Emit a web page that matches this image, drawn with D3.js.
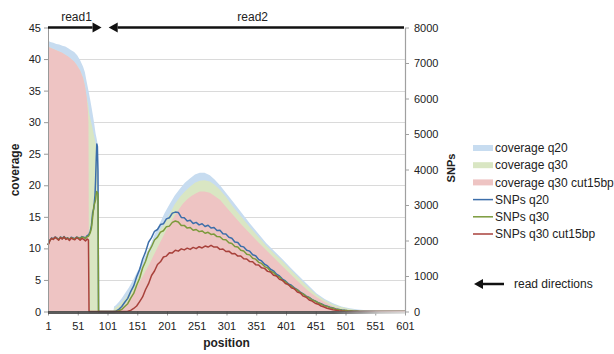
<!DOCTYPE html>
<html>
<head>
<meta charset="utf-8">
<script src="https://cdn.jsdelivr.net/npm/d3@7"></script>
<style>
  body { margin: 0; background: #fff; }
  svg text { font-family: "Liberation Sans", Arial, sans-serif; fill: #222; }
</style>
</head>
<body>
<div id="chart"></div>
<script>
// coverage areas (left axis), position -> coverage
const covQ20Pos = [1, 5, 10, 15, 20, 25, 30, 35, 40, 45, 50, 55, 60, 63, 66, 69, 72, 75, 78, 81, 83, 85, 86,
  111, 112, 115, 120, 125, 130, 137, 144, 151, 158, 165, 172, 180, 189, 197, 206, 214, 223, 231, 240, 248, 256,
  264, 273, 281, 290, 300, 312, 326, 340, 354, 368, 382, 396, 410, 424, 438, 452, 466, 480, 494, 508, 522, 536,
  550, 565, 601];
const covQ20 = [42.9, 42.7, 42.6, 42.4, 42.3, 42.1, 42.0, 41.7, 41.4, 41.1, 40.6, 39.8, 38.8, 37.9, 36.4, 35.0,
  33.5, 31.9, 30.2, 28.2, 27.3, 26.2, 0,
  0, 0.8, 1.0, 1.5, 2.1, 2.8, 3.8, 5.0, 6.3, 7.6, 8.9, 10.3, 12.2, 14.0, 15.6, 17.1, 18.4, 19.5, 20.4, 21.1, 21.7,
  22.0, 22.0, 21.6, 20.9, 20.0, 18.8, 17.4, 15.7, 14.0, 12.4, 10.8, 9.5, 8.2, 6.8, 5.5, 4.2, 2.9, 2.0, 1.3, 0.8,
  0.5, 0.3, 0.2, 0.1, 0, 0];

const covQ30Pos = [1, 10, 20, 30, 40, 49, 55, 60, 63, 66, 69, 70, 72, 75, 78, 81, 83, 85, 86,
  111, 113, 120, 130, 137, 144, 151, 158, 165, 172, 180, 189, 197, 200, 208, 214, 223, 231, 240, 248, 256, 264,
  273, 281, 290, 300, 312, 326, 340, 354, 368, 382, 396, 410, 424, 438, 452, 466, 480, 494, 508, 522, 536, 550, 601];
const covQ30 = [42.0, 41.6, 41.2, 40.7, 40.0, 39.1, 38.2, 37.0, 35.8, 34.0, 32.5, 31.5, 30.6, 29.4, 28.0, 26.6, 25.7, 24.8, 0,
  0, 0.5, 1.0, 2.0, 2.9, 3.9, 5.1, 6.5, 7.8, 9.2, 11.0, 12.9, 14.0, 14.5, 15.9, 17.0, 18.2, 19.0, 19.8, 20.4, 20.7,
  20.8, 20.6, 20.1, 19.3, 18.2, 16.6, 15.0, 13.4, 11.9, 10.4, 9.1, 7.9, 6.5, 5.2, 3.9, 2.7, 1.8, 1.1, 0.7, 0.4, 0.2,
  0.1, 0, 0];

const covCutPos = [1, 5, 10, 15, 20, 25, 30, 35, 40, 45, 49, 55, 60, 63, 66, 68, 69, 70,
  115, 125, 135, 144, 151, 158, 165, 172, 179, 186, 193, 200, 207, 214, 221, 228, 235, 242, 249, 256, 264, 273,
  281, 290, 300, 312, 326, 340, 354, 368, 382, 396, 410, 424, 438, 452, 466, 480, 494, 508, 522, 540, 601];
const covCut = [42.0, 41.8, 41.6, 41.4, 41.2, 41.0, 40.7, 40.4, 40.0, 39.6, 39.1, 38.2, 37.0, 35.8, 34.0, 31.8, 30.0, 0,
  0, 0.5, 1.5, 3.0, 4.0, 5.2, 6.4, 7.6, 9.0, 10.3, 11.6, 12.9, 14.1, 15.2, 16.2, 17.1, 17.8, 18.3, 18.7, 19.0, 19.0,
  18.8, 18.3, 17.7, 16.6, 15.3, 13.8, 12.4, 11.0, 9.7, 8.4, 7.1, 5.8, 4.5, 3.3, 2.3, 1.5, 0.8, 0.4, 0.2, 0.05, 0, 0];

// SNP lines (right axis)
const snpPos = [1, 4, 7, 10, 13, 16, 19, 22, 25, 28, 31, 34, 37, 40, 43, 46, 49, 52, 55, 58, 61, 64, 67, 69,
  70, 72, 74, 76, 78, 80, 81, 82, 83, 84, 85, 86,
  100, 110,
  115, 120, 125, 130, 135, 140, 145, 150, 155, 160,
  165, 170, 175, 180, 185, 190, 195, 200, 205, 210,
  215, 220, 225, 230, 235, 240, 245, 250, 255, 260,
  265, 270, 275, 280, 285, 290, 295, 300, 305, 310,
  315, 320, 325, 330, 335, 340, 345, 350, 355, 360,
  365, 370, 375, 380, 385, 390, 395, 400, 405, 410,
  415, 420, 425, 430, 435, 440, 445, 450, 455, 460,
  465, 470, 475, 480, 485, 490, 495, 500, 505, 510,
  515, 520, 525,
  545, 565, 585, 601];

const snpQ20 = [1880, 2010, 2070, 2050, 2100, 2070, 2030, 2100, 2060, 2110, 2050, 2080, 2030, 2090, 2070, 2050,
  2100, 2080, 2060, 2110, 2090, 2070, 2140, 2160,
  2190, 2260, 2420, 2780, 2900, 3280, 3700, 4250, 4720, 4650, 3950, 0,
  0, 0,
  10, 60, 140, 260, 370, 560, 720, 980, 1185, 1470,
  1680, 1950, 2080, 2260, 2310, 2450, 2470, 2610, 2640, 2770,
  2800, 2790, 2650, 2640, 2550, 2570, 2480, 2510, 2440, 2470,
  2395, 2430, 2350, 2365, 2280, 2290, 2190, 2180, 2090, 2065,
  1960, 1945, 1840, 1820, 1725, 1700, 1600, 1570, 1465, 1425,
  1330, 1285, 1190, 1145, 1050, 1000, 915, 860, 780, 740,
  665, 615, 545, 495, 435, 395, 335, 300, 250, 218,
  178, 152, 118, 96, 73, 59, 43, 32, 23, 16,
  10, 6, 3,
  0, 0, 0, 0];

const snpQ30 = [1870, 2000, 2060, 2040, 2090, 2060, 2020, 2090, 2050, 2100, 2040, 2070, 2020, 2080, 2060, 2040,
  2090, 2070, 2050, 2100, 2080, 2060, 2110, 2120,
  2150, 2220, 2350, 2650, 2960, 3080, 3150, 3300, 3380, 3350, 3300, 0,
  0, 0,
  0, 20, 60, 140, 220, 375, 510, 740, 935, 1225,
  1415, 1675, 1825, 2015, 2095, 2235, 2275, 2390, 2405, 2510,
  2550, 2520, 2420, 2425, 2350, 2365, 2290, 2310, 2250, 2270,
  2205, 2230, 2170, 2180, 2110, 2105, 2030, 2020, 1935, 1915,
  1830, 1815, 1725, 1705, 1615, 1595, 1500, 1475, 1385, 1355,
  1265, 1230, 1135, 1100, 1005, 970, 875, 840, 750, 715,
  640, 605, 530, 490, 420, 388, 322, 292, 240, 210,
  165, 143, 108, 90, 66, 53, 38, 29, 20, 14,
  9, 5, 2,
  0, 0, 0, 0];

const snpCut = [1870, 1990, 2060, 2030, 2090, 2050, 2010, 2080, 2040, 2100, 2030, 2060, 2000, 2070, 2040, 2020,
  2080, 2050, 2010, 2060, 2030, 1990, 2040, 2010,
  0, 0, 0, 0, 0, 0, 0, 0, 0, 0, 0, 0,
  0, 0,
  0, 0, 0, 0, 5, 30, 85, 155, 280, 410,
  620, 785, 1015, 1140, 1325, 1400, 1535, 1560, 1655, 1650,
  1725, 1700, 1765, 1735, 1785, 1750, 1805, 1770, 1825, 1790,
  1845, 1815, 1865, 1815, 1820, 1750, 1760, 1690, 1700, 1630,
  1635, 1560, 1565, 1485, 1480, 1405, 1400, 1320, 1310, 1230,
  1215, 1130, 1110, 1020, 1000, 905, 880, 790, 760, 670,
  640, 550, 520, 432, 400, 325, 292, 232, 205, 155,
  128, 92, 72, 48, 36, 21, 12, 6, 2, 0,
  0, 0, 0,
  0, 0, 0, 0];

const xTicks = [1, 51, 101, 151, 201, 251, 301, 351, 401, 451, 501, 551, 601];
const covTicks = [0, 5, 10, 15, 20, 25, 30, 35, 40, 45];
const snpTicks = [0, 1000, 2000, 3000, 4000, 5000, 6000, 7000, 8000];
const areaLabels = ['coverage q20', 'coverage q30', 'coverage q30 cut15bp'];
const lineLabels = ['SNPs q20', 'SNPs q30', 'SNPs q30 cut15bp'];

const areaColors = ['#c7dcf0', '#d9e6c3', '#eec4c3'];
const lineColors = ['#3c6eaa', '#7b9a3b', '#a8413b'];

const width = 614, height = 354;
const plot = {left: 48, right: 405, top: 27.5, bottom: 311.5};

const svg = d3.select('#chart')
  .append('svg')
    .attr('width', width)
    .attr('height', height);

const defs = svg.append('defs');
defs.append('filter').attr('id', 'soft')
  .append('feGaussianBlur').attr('stdDeviation', 0.6);
const grad = defs.append('linearGradient').attr('id', 'axisfade')
  .attr('x1', '0%').attr('x2', '100%');
grad.append('stop').attr('offset', '0%').attr('stop-color', '#3e3e3e');
grad.append('stop').attr('offset', '80%').attr('stop-color', '#454545');
grad.append('stop').attr('offset', '93%').attr('stop-color', '#c8c8c8');
grad.append('stop').attr('offset', '100%').attr('stop-color', '#e0e0e0');

const xScale = d3.scaleLinear().domain([1, 601]).range([plot.left, plot.right]);
const yCov = d3.scaleLinear().domain([0, 45]).range([plot.bottom, plot.top]);
const ySnp = d3.scaleLinear().domain([0, 8000]).range([plot.bottom, plot.top]);

// gridlines
svg.append('g')
  .selectAll('line')
  .data(covTicks.filter((d) => d > 0 && d < 45))
  .join('line')
    .attr('x1', plot.left).attr('x2', plot.right)
    .attr('y1', (d) => Math.round(yCov(d)) + 0.5)
    .attr('y2', (d) => Math.round(yCov(d)) + 0.5)
    .attr('stroke', '#dadada');

// coverage areas
const areaSets = [
  [covQ20Pos, covQ20],
  [covQ30Pos, covQ30],
  [covCutPos, covCut]
];
const area = d3.area()
  .x((d) => xScale(d[0]))
  .y0(yCov(0))
  .y1((d) => yCov(d[1]));

areaSets.forEach(([p, v], i) => {
  svg.append('path')
    .datum(p.map((x, k) => [x, v[k]]))
    .attr('fill', areaColors[i])
    .attr('filter', 'url(#soft)')
    .attr('d', area);
});

// SNP lines
const snpSets = [snpQ20, snpQ30, snpCut];
const line = d3.line()
  .x((d) => xScale(d[0]))
  .y((d) => ySnp(d[1]));

snpSets.forEach((v, i) => {
  svg.append('path')
    .datum(snpPos.map((x, k) => [x, v[k]]))
    .attr('fill', 'none')
    .attr('stroke', lineColors[i])
    .attr('stroke-width', 1.5)
    .attr('stroke-linejoin', 'round')
    .attr('d', line);
});

// left axis
const leftAxis = svg.append('g')
  .attr('transform', `translate(${plot.left},0)`)
  .call(d3.axisLeft(yCov).tickValues(covTicks).tickSize(4).tickSizeOuter(0).tickPadding(3));
leftAxis.select('.domain').attr('stroke', '#999999');
leftAxis.selectAll('.tick line').attr('stroke', '#999999');
leftAxis.selectAll('text').attr('font-size', 11).attr('fill', '#222');

// right axis
const rightAxis = svg.append('g')
  .attr('transform', `translate(${plot.right},0)`)
  .call(d3.axisRight(ySnp).tickValues(snpTicks).tickSize(4).tickSizeOuter(0).tickPadding(5).tickFormat(d3.format('d')));
rightAxis.select('.domain').attr('stroke', '#a0a0a0').attr('stroke-width', 1.2);
rightAxis.selectAll('.tick line').attr('stroke', '#a0a0a0');
rightAxis.selectAll('text').attr('font-size', 11).attr('fill', '#222');

// bottom axis
const bottomAxis = svg.append('g')
  .attr('transform', `translate(0,${plot.bottom})`)
  .call(d3.axisBottom(xScale).tickValues(xTicks).tickSize(4).tickSizeOuter(0).tickPadding(7));
bottomAxis.select('.domain').remove();
bottomAxis.selectAll('.tick line').attr('stroke', '#9a9a9a');
bottomAxis.selectAll('text').attr('font-size', 11).attr('fill', '#222');
svg.append('rect')
  .attr('x', plot.left).attr('y', plot.bottom - 0.5)
  .attr('width', plot.right - plot.left).attr('height', 3)
  .attr('fill', 'url(#axisfade)')
  .attr('opacity', 0.85);

// axis titles
svg.append('text')
  .attr('x', (plot.left + plot.right) / 2).attr('y', 347)
  .attr('text-anchor', 'middle')
  .attr('font-size', 12).attr('font-weight', 'bold')
  .text('position');

svg.append('text')
  .attr('transform', 'translate(19,170) rotate(-90)')
  .attr('text-anchor', 'middle')
  .attr('font-size', 12).attr('font-weight', 'bold')
  .text('coverage');

svg.append('text')
  .attr('transform', 'translate(455,168) rotate(-90)')
  .attr('text-anchor', 'middle')
  .attr('font-size', 11).attr('font-weight', 'bold')
  .text('SNPs');

// read direction arrows at the top
function arrow(g, x1, x2, y, size) {
  // arrow from x1 to tip x2
  const dir = Math.sign(x2 - x1);
  g.append('line')
    .attr('x1', x1).attr('x2', x2 - dir * size)
    .attr('y1', y).attr('y2', y)
    .attr('stroke', '#111').attr('stroke-width', 2.5);
  g.append('path')
    .attr('d', `M${x2},${y} L${x2 - dir * size},${y - size / 2 - 0.5} L${x2 - dir * size},${y + size / 2 + 0.5} Z`)
    .attr('fill', '#111');
}
const arrows = svg.append('g');
arrow(arrows, plot.left, xScale(91), plot.top, 9);
arrow(arrows, plot.right - 1, xScale(103), plot.top, 9);

svg.append('text')
  .attr('x', xScale(49)).attr('y', 21)
  .attr('text-anchor', 'middle').attr('font-size', 12)
  .text('read1');
svg.append('text')
  .attr('x', xScale(345)).attr('y', 21)
  .attr('text-anchor', 'middle').attr('font-size', 12)
  .text('read2');

// legend
const legend = svg.append('g').attr('transform', 'translate(473,148)');
const rowH = 17.2;
areaLabels.forEach((label, i) => {
  const g = legend.append('g').attr('transform', `translate(0,${i * rowH})`);
  g.append('rect').attr('x', 0).attr('y', -3).attr('width', 20).attr('height', 6).attr('fill', areaColors[i]);
  g.append('text').attr('x', 22).attr('y', 0).attr('dy', '0.35em').attr('font-size', 12).text(label);
});
lineLabels.forEach((label, i) => {
  const g = legend.append('g').attr('transform', `translate(0,${(i + 3) * rowH})`);
  g.append('line').attr('x1', 0).attr('x2', 20).attr('y1', 0).attr('y2', 0)
    .attr('stroke', lineColors[i]).attr('stroke-width', 1.5);
  g.append('text').attr('x', 22).attr('y', 0).attr('dy', '0.35em').attr('font-size', 12).text(label);
});

const legArrow = svg.append('g');
arrow(legArrow, 504, 474, 284, 9);
svg.append('text')
  .attr('x', 514).attr('y', 284).attr('dy', '0.35em')
  .attr('font-size', 12)
  .text('read directions');
</script>
</body>
</html>
